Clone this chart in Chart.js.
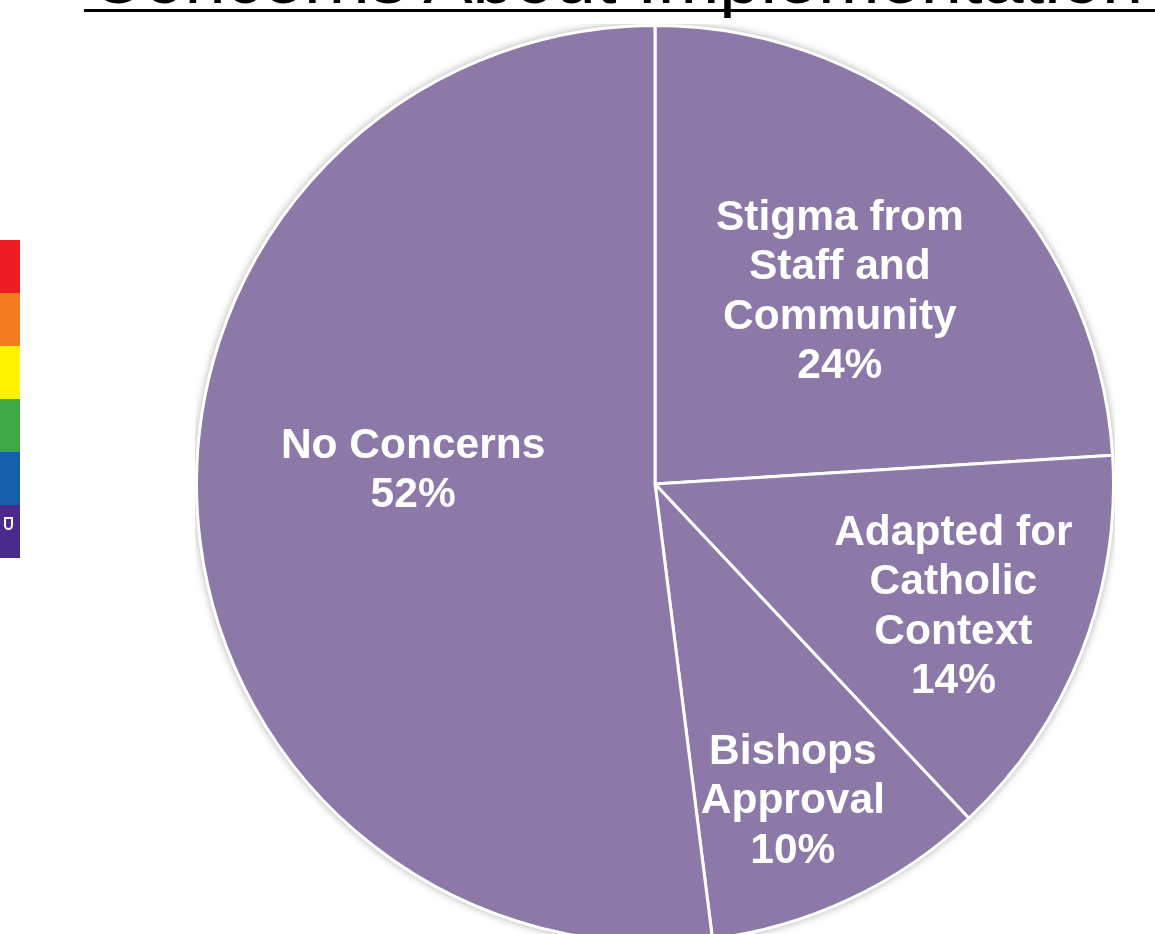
<!DOCTYPE html>
<html>
<head>
<meta charset="utf-8">
<script src="https://cdn.jsdelivr.net/npm/chart.js@4.4.0/dist/chart.umd.min.js"></script>
<style>
    html, body {
        margin: 0;
        padding: 0;
        width: 1155px;
        height: 934px;
        overflow: hidden;
        background: #ffffff;
        font-family: "Liberation Sans", Arial, sans-serif;
    }
    #title {
        position: absolute;
        left: 90px;
        top: -59px;
        font-size: 74px;
        line-height: 74px;
        white-space: nowrap;
        color: #000;
    }
    #underline {
        position: absolute;
        left: 84px;
        top: 9px;
        width: 1080px;
        height: 3px;
        background: #000;
    }
    #rainbow {
        position: absolute;
        left: 0;
        top: 240px;
        width: 20px;
    }
    #rainbow div {
        height: 53px;
        position: relative;
    }
    #shield {
        position: absolute;
        left: 4px;
        top: 12px;
        width: 9px;
        height: 13px;
        border: 2px solid #ffffff;
        border-radius: 1px 1px 8px 8px;
        box-sizing: border-box;
    }
    #chartBox {
        position: absolute;
        left: 195px;
        top: 24px;
    }
</style>
</head>
<body>
<div id="title">Concerns About Implementation</div>
<div id="underline"></div>
<div id="rainbow">
    <div style="background:#ee1c25"></div>
    <div style="background:#f47b20"></div>
    <div style="background:#fff200"></div>
    <div style="background:#3fa945"></div>
    <div style="background:#1560ad"></div>
    <div style="background:#4b2a8e"><span id="shield"></span></div>
</div>
<div id="chartBox">
    <canvas id="concernsChart" width="920" height="920"></canvas>
</div>

<script>
// Slices, clockwise from 12 o'clock
const categories = [
    ['Stigma from', 'Staff and', 'Community'],
    ['Adapted for', 'Catholic', 'Context'],
    ['Bishops', 'Approval'],
    ['No Concerns']
];
const percentValues = [24, 14, 10, 52];

// Label placement inside each slice: fraction of radius, and angle nudge (degrees)
const labelRadius = [0.589, 0.70, 0.745, 0.529];
const labelAngleShift = [0, 0, 1.4, 7.9];

// Soft shadow behind the whole pie
const pieShadow = {
    id: 'pieShadow',
    beforeDatasetsDraw(chart) {
        const arc = chart.getDatasetMeta(0).data[0];
        if (!arc) return;
        const ctx = chart.ctx;
        ctx.save();
        ctx.shadowColor = 'rgba(0, 0, 0, 0.35)';
        ctx.shadowBlur = 8;
        ctx.beginPath();
        ctx.arc(arc.x, arc.y, arc.outerRadius + 1, 0, Math.PI * 2);
        ctx.fillStyle = '#ffffff';
        ctx.fill();
        ctx.restore();
    }
};

// White bold labels inside each slice
const sliceLabels = {
    id: 'sliceLabels',
    afterDatasetsDraw(chart) {
        const ctx = chart.ctx;
        const meta = chart.getDatasetMeta(0);
        ctx.save();
        ctx.fillStyle = '#ffffff';
        ctx.font = 'bold 42.5px "Liberation Sans", Arial, sans-serif';
        ctx.textAlign = 'center';
        ctx.textBaseline = 'middle';
        const lineHeight = 49.5;
        meta.data.forEach(function(arc, i) {
            const mid = (arc.startAngle + arc.endAngle) / 2 + labelAngleShift[i] * Math.PI / 180;
            const r = arc.outerRadius * labelRadius[i];
            const cx = arc.x + Math.cos(mid) * r;
            const cy = arc.y + Math.sin(mid) * r + 5;
            const lines = categories[i].concat([percentValues[i] + '%']);
            const top = cy - (lines.length - 1) * lineHeight / 2;
            lines.forEach(function(line, j) {
                ctx.fillText(line, cx, top + j * lineHeight);
            });
        });
        ctx.restore();
    }
};

document.addEventListener('DOMContentLoaded', function() {
    const ctx = document.getElementById('concernsChart').getContext('2d');

    new Chart(ctx, {
        type: 'pie',
        data: {
            labels: categories.map(function(c) { return c.join(' '); }),
            datasets: [{
                data: percentValues,
                backgroundColor: '#8c79a7',
                borderColor: '#ffffff',
                borderWidth: 3,
                hoverOffset: 0
            }]
        },
        options: {
            responsive: false,
            animation: false,
            layout: { padding: 0 },
            plugins: {
                legend: { display: false },
                tooltip: { enabled: false }
            }
        },
        plugins: [pieShadow, sliceLabels]
    });
});
</script>
</body>
</html>
